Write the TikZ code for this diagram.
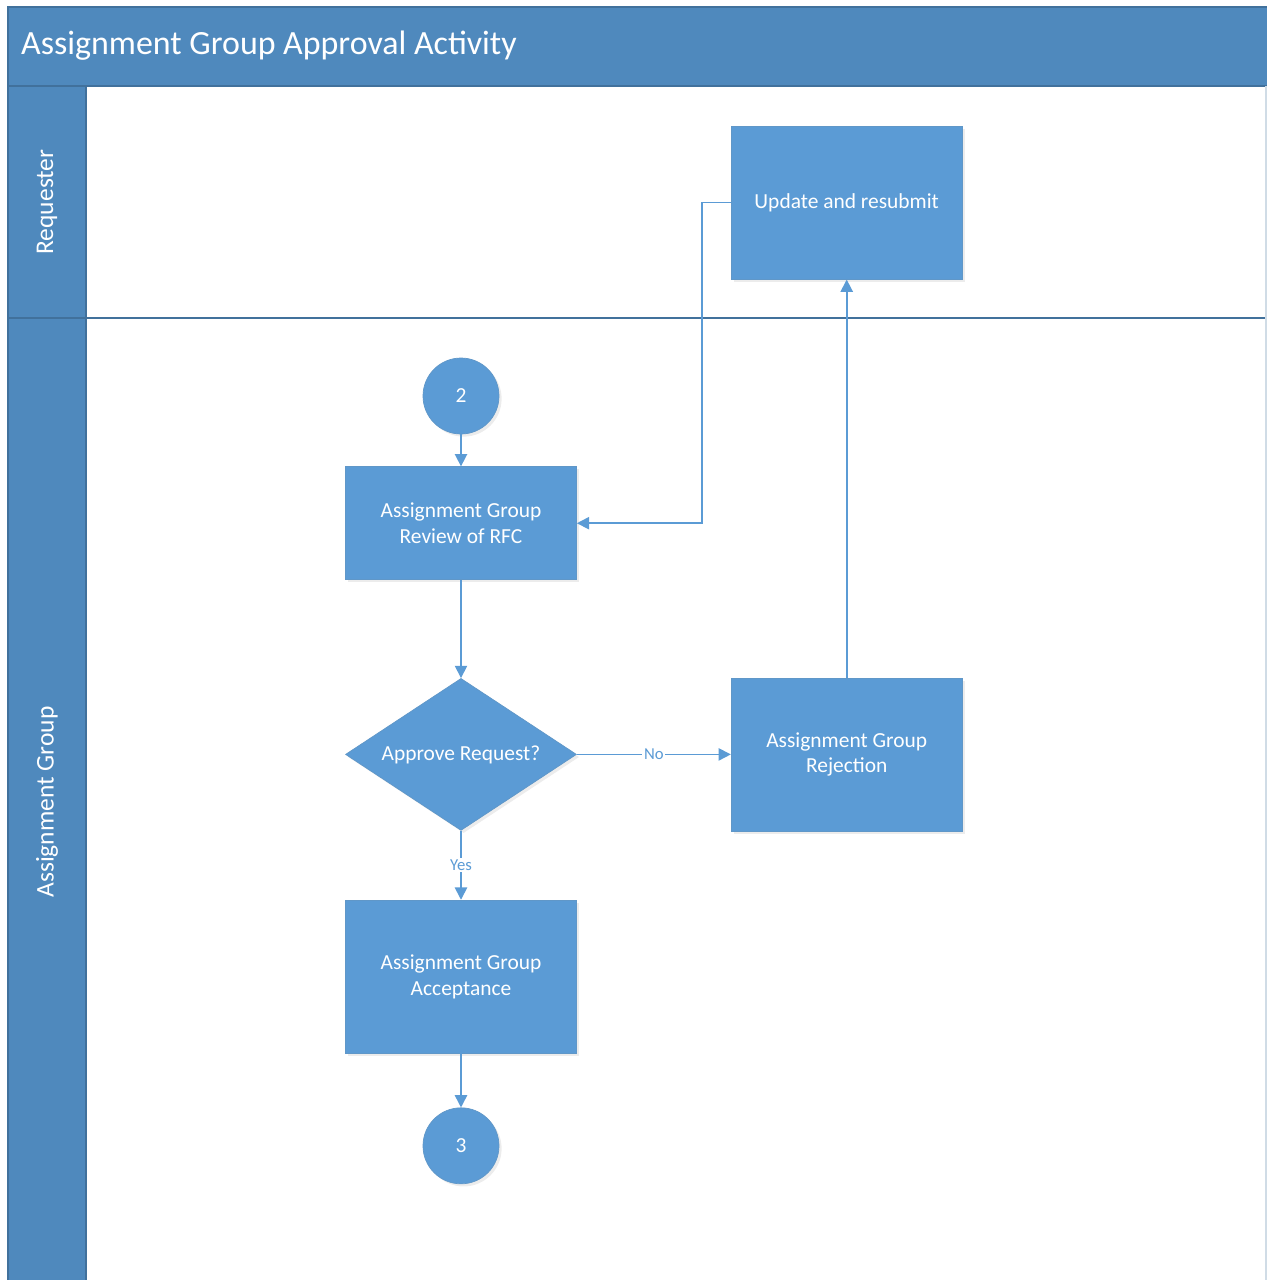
\documentclass[tikz,border=0pt]{standalone}
\usepackage{fontspec}
\setmainfont{Carlito}
\usepackage{tikz}
\usetikzlibrary{shapes.geometric, arrows.meta, positioning, shadows}

\definecolor{laneblue}{HTML}{4F89BD}
\definecolor{laneedge}{HTML}{41719C}
\definecolor{boxblue}{HTML}{5B9BD5}

\begin{document}
\begin{tikzpicture}[
  node distance=0.64cm and 3.08cm,
  soft_shadow/.style={drop shadow={opacity=0.15, shadow xshift=1.5pt, shadow yshift=-1.5pt}},
  box/.style={fill=boxblue, draw=boxblue!85!gray, line width=0.4pt, minimum width=4.62cm, minimum height=3.06cm, align=center, text=white, font=\fontsize{12.2}{14.5}\selectfont, soft_shadow},
  decision/.style={box, diamond, aspect=1.52, minimum width=4.62cm, minimum height=3.04cm, inner sep=0pt},
  connector/.style={box, circle, minimum width=1.52cm, minimum height=1.52cm, inner sep=0pt},
  arr/.style={-{Triangle[length=7pt, width=7pt]}, draw=boxblue, line width=0.9pt},
  lane_label/.style={rotate=90, text=white, font=\fontsize{14.5}{17}\selectfont},
  edge_label/.style={fill=white, text=boxblue, font=\fontsize{9.5}{11}\selectfont, inner sep=1pt}
]
  \useasboundingbox (0,0) rectangle (25.34,-25.6);
  % pool: title band, lane column and lane divider
  \fill[laneblue] (0.16,-0.14) rectangle (25.34,-1.72);
  \fill[laneblue] (0.16,-1.72) rectangle (1.72,-25.6);
  \draw[laneedge, line width=1pt] (0.16,-25.6) -- (0.16,-0.14) -- (25.34,-0.14);
  \draw[laneedge, line width=1.2pt] (0.16,-1.72) -- (25.34,-1.72);
  \draw[laneedge, line width=0.8pt] (1.72,-1.72) -- (1.72,-25.6);
  \draw[laneedge, line width=1pt] (0.16,-6.36) -- (25.34,-6.36);
  \draw[laneedge!25, line width=0.6pt] (25.32,-1.72) -- (25.32,-25.6);
  \node[anchor=west, text=white, font=\fontsize{19.3}{23}\selectfont] (title) at (0.3,-0.92) {Assignment Group Approval Activity};
  \node[lane_label] (requester) at (0.94,-4.04) {Requester};
  \node[lane_label] (group) at (0.94,-16.04) {Assignment Group};

  % flow
  \node[connector] (start) at (9.22,-7.92) {2};
  \node[box, minimum height=2.26cm, below=of start] (review) {Assignment Group\\Review of RFC};
  \node[decision, below=1.96cm of review] (approve) {Approve Request?};
  \node[box, below=1.38cm of approve] (accept) {Assignment Group\\Acceptance};
  \node[connector, below=1.08cm of accept] (finish) {3};
  \node[box, right=of approve] (reject) {Assignment Group\\Rejection};
  \node[box, above=7.96cm of reject] (resubmit) {Update and resubmit};

  \draw[arr] (start) -- (review);
  \draw[arr] (review) -- (approve);
  \draw[arr] (approve) -- node[edge_label]{Yes} (accept);
  \draw[arr] (approve) -- node[edge_label]{No} (reject);
  \draw[arr] (accept) -- (finish);
  \draw[arr] (reject) -- (resubmit);
  \draw[arr] (resubmit.west) -- ++(-0.58,0) |- (review.east);
\end{tikzpicture}
\end{document}
